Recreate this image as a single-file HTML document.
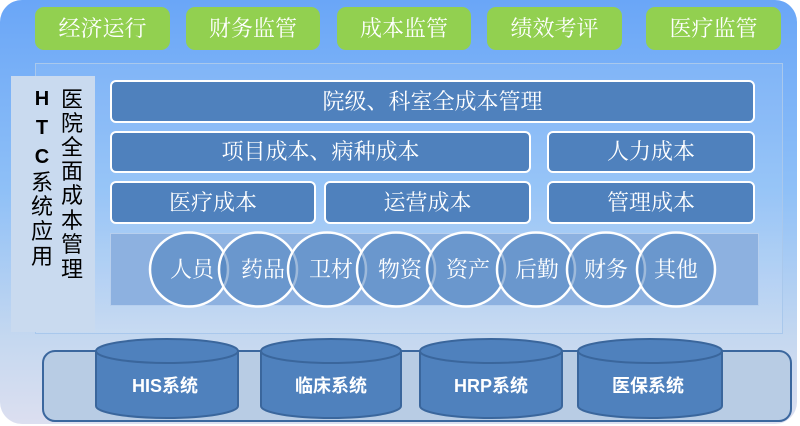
<!DOCTYPE html>
<html><head><meta charset="utf-8"><style>
body{margin:0;width:800px;height:426px;background:#fff;overflow:hidden;font-family:"Liberation Sans","Noto Sans CJK SC",sans-serif;}
.a{position:absolute}
.g{position:absolute;top:7px;height:43px;background:#92d050;border-radius:9px;color:#fff;font-size:22px;line-height:43px;text-align:center;font-family:"Liberation Serif","Noto Serif CJK SC",serif}
.b{position:absolute;background:#4f81bd;border:2px solid #fff;border-radius:6px;color:#fff;font-size:22px;text-align:center;box-sizing:border-box;font-family:"Liberation Serif","Noto Serif CJK SC",serif}
.c{position:absolute;font-size:22px;color:#000;width:26px;text-align:center;line-height:24px}
</style></head><body>
<div class="a" style="left:0;top:0;width:797px;height:424px;border-radius:22px;background:linear-gradient(#6aa6f7 0%,#8fc0f7 45%,#c5d8f0 80%,#dcdff0 100%)"></div>
<div class="g" style="left:35px;width:135px">经济运行</div>
<div class="g" style="left:186px;width:134px">财务监管</div>
<div class="g" style="left:337px;width:134px">成本监管</div>
<div class="g" style="left:487px;width:135px">绩效考评</div>
<div class="g" style="left:646px;width:135px">医疗监管</div>
<div class="a" style="left:35px;top:63px;width:746px;height:269px;border:1.5px solid #a9c8ec;background:rgba(255,255,255,0.08)"></div>
<div class="a" style="left:11px;top:76px;width:84px;height:256px;background:#c9daef"></div>
<div class="c" style="left:29px;top:87px;font-weight:bold;font-size:20px">H</div>
<div class="c" style="left:29px;top:116px;font-weight:bold;font-size:20px">T</div>
<div class="c" style="left:29px;top:145px;font-weight:bold;font-size:20px">C</div>
<div class="c" style="left:29px;top:171px">系</div>
<div class="c" style="left:29px;top:195px">统</div>
<div class="c" style="left:29px;top:220px">应</div>
<div class="c" style="left:29px;top:245px">用</div>
<div class="c" style="left:59px;top:88px">医</div>
<div class="c" style="left:59px;top:112px">院</div>
<div class="c" style="left:59px;top:136px">全</div>
<div class="c" style="left:59px;top:160px">面</div>
<div class="c" style="left:59px;top:184px">成</div>
<div class="c" style="left:59px;top:209px">本</div>
<div class="c" style="left:59px;top:233px">管</div>
<div class="c" style="left:59px;top:258px">理</div>
<div class="b" style="left:110px;top:80px;width:645px;height:43px;line-height:39px">院级、科室全成本管理</div>
<div class="b" style="left:110px;top:131px;width:421px;height:42px;line-height:38px">项目成本、病种成本</div>
<div class="b" style="left:547px;top:131px;width:208px;height:42px;line-height:38px">人力成本</div>
<div class="b" style="left:110px;top:181px;width:206px;height:43px;line-height:39px">医疗成本</div>
<div class="b" style="left:324px;top:181px;width:207px;height:43px;line-height:39px">运营成本</div>
<div class="b" style="left:547px;top:181px;width:208px;height:43px;line-height:39px">管理成本</div>
<div class="a" style="left:110px;top:233px;width:649px;height:73px;background:#8db1e0;border:1px solid #b7cfee;box-sizing:border-box"></div>
<svg class="a" style="left:0;top:0" width="800" height="426">
<g fill="rgba(79,129,189,0.55)" stroke="#fff" stroke-width="2.5">
<ellipse cx="189" cy="269.5" rx="39" ry="37"/>
<ellipse cx="258" cy="269.5" rx="39" ry="37"/>
<ellipse cx="327" cy="269.5" rx="39" ry="37"/>
<ellipse cx="396" cy="269.5" rx="39" ry="37"/>
<ellipse cx="466" cy="269.5" rx="39" ry="37"/>
<ellipse cx="536" cy="269.5" rx="39" ry="37"/>
<ellipse cx="606" cy="269.5" rx="39" ry="37"/>
<ellipse cx="676" cy="269.5" rx="39" ry="37"/>
</g>
<g fill="#fff" font-size="22" text-anchor="middle" font-family="Liberation Serif,Noto Serif CJK SC,serif">
<text x="192" y="277">人员</text><text x="263" y="277">药品</text><text x="331" y="277">卫材</text><text x="400" y="277">物资</text><text x="468" y="277">资产</text><text x="537" y="277">后勤</text><text x="606" y="277">财务</text><text x="676" y="277">其他</text>
</g>
<rect x="43" y="351" width="748" height="70" rx="12" fill="#b8cce4" stroke="#3b679e" stroke-width="2"/>
<g fill="#4f81bd" stroke="#3a669c" stroke-width="2">
<path d="M96 351 V406 A71 12 0 0 0 238 406 V351"/><ellipse cx="167" cy="351" rx="71" ry="12"/>
<path d="M261 351 V406 A70 12 0 0 0 401 406 V351"/><ellipse cx="331" cy="351" rx="70" ry="12"/>
<path d="M420 351 V406 A71 12 0 0 0 562 406 V351"/><ellipse cx="491" cy="351" rx="71" ry="12"/>
<path d="M578 351 V406 A72 12 0 0 0 722 406 V351"/><ellipse cx="650" cy="351" rx="72" ry="12"/>
</g>
<g fill="#fff" font-size="18" font-weight="bold" text-anchor="middle" font-family="Liberation Sans,Noto Sans CJK SC,sans-serif">
<text x="165" y="392">HIS系统</text><text x="331" y="392">临床系统</text><text x="491" y="392">HRP系统</text><text x="648" y="392">医保系统</text>
</g>
</svg>
</body></html>
